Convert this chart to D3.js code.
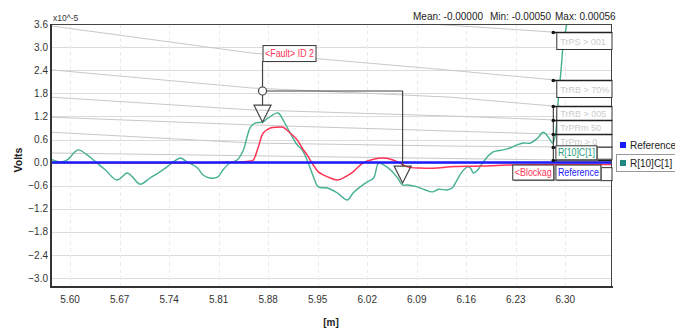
<!DOCTYPE html>
<html><head><meta charset="utf-8">
<script src="https://cdn.jsdelivr.net/npm/d3@7"></script>
<style>body{margin:0;background:#fff}svg{display:block;font-family:"Liberation Sans",Arial,sans-serif}</style>
</head><body><svg id="c" width="675" height="332"></svg>
<script>
// ---- data ----
const xTicks = [5.60,5.67,5.74,5.81,5.88,5.95,6.02,6.09,6.16,6.23,6.30];
const yTicks = [-3.0,-2.4,-1.8,-1.2,-0.6,0.0,0.6,1.2,1.8,2.4,3.0,3.6];
const tealX = [5.573,5.586,5.596,5.611,5.624,5.638,5.650,5.666,5.681,5.688,5.699,5.713,5.727,5.737,5.746,5.756,5.765,5.780,5.788,5.798,5.809,5.816,5.826,5.836,5.845,5.850,5.855,5.862,5.872,5.880,5.894,5.901,5.911,5.921,5.928,5.936,5.944,5.951,5.964,5.978,5.992,6.000,6.010,6.020,6.029,6.036,6.043,6.053,6.063,6.070,6.077,6.091,6.102,6.112,6.121,6.133,6.140,6.147,6.154,6.162,6.166,6.170,6.176,6.183,6.190,6.198,6.212,6.222,6.232,6.241,6.251,6.261,6.269,6.276,6.282,6.286,6.290,6.294,6.297,6.302,6.307];
const tealV = [0.09,0.02,0.07,0.33,0.20,-0.01,-0.19,-0.45,-0.27,-0.37,-0.56,-0.40,-0.24,-0.11,0.02,0.12,0.02,-0.14,-0.32,-0.40,-0.37,-0.19,-0.01,0.07,0.33,0.66,0.92,1.03,1.05,1.16,1.29,1.11,0.77,0.46,0.33,0.02,-0.37,-0.63,-0.66,-0.79,-0.97,-0.79,-0.63,-0.50,-0.40,-0.01,-0.06,-0.19,-0.40,-0.58,-0.58,-0.63,-0.71,-0.76,-0.69,-0.71,-0.66,-0.45,-0.24,-0.11,-0.14,-0.27,-0.19,-0.01,0.15,0.28,0.33,0.38,0.46,0.51,0.51,0.64,0.79,0.66,0.51,0.72,1.63,2.41,3.05,3.60,4.50];
const redX = [5.573,5.855,5.859,5.866,5.873,5.883,5.893,5.901,5.911,5.921,5.928,5.935,5.942,5.951,5.964,5.978,5.989,6.000,6.014,6.029,6.043,6.053,6.063,6.077,6.095,6.119,6.137,6.180,6.225,6.366];
const redV = [0,0.04,0.07,0.40,0.77,0.90,0.92,0.92,0.77,0.59,0.38,0.20,-0.01,-0.24,-0.37,-0.45,-0.37,-0.24,-0.01,0.09,0.12,0.09,0.02,-0.11,-0.14,-0.14,-0.11,-0.09,-0.06,-0.05];
const refX = [5.573,6.366];
const refV = [0,0];
// threshold guide lines, each ends at a tag
const guideX = [[5.573,5.855,6.137,6.283],[6.109,6.283],[5.573,5.855,6.137,6.283],[5.573,5.855,6.137,6.283],[5.573,5.855,6.137,6.283],[5.573,5.855,6.137,6.283],[5.573,6.283]];
const guideV = [[3.55,2.85,2.40,2.15],[3.60,3.39],[2.41,1.94,1.70,1.47],[1.70,1.37,1.21,1.11],[1.18,0.98,0.82,0.74],[0.79,0.51,0.43,0.41],[0.25,0.07]];
const guideTags = ["TrRB > 70%","TrPS > 001","TrRB > 005","TrPRm 50","TrPm > 0","",""];
const faultX = [5.872,6.070];
const faultTipV = [1.05,-0.53];
const stats = ["Mean: -0.00000","Min: -0.00050","Max: 0.00056"];
const legendNames = ["Reference","R[10]C[1]"];

// ---- chart ----
const svg = d3.select("#c");
const L=51,R=612,T=24,B=287;
const x = d3.scaleLinear().domain([5.573,6.366]).range([L,R]);
const y = d3.scaleLinear().domain([-3.23,3.6]).range([B,T]);
const cTeal="#45b093", cRed="#ff3355", cBlue="#1a1aff";

svg.append("rect").attr("width",675).attr("height",332).attr("fill","#fff");
svg.append("defs").append("clipPath").attr("id","pc").append("rect").attr("x",L).attr("y",T).attr("width",R-L).attr("height",B-T);

// grid
svg.append("g").selectAll("line").data(yTicks).join("line")
  .attr("x1",L).attr("x2",R).attr("y1",d=>Math.round(y(d))+0.5).attr("y2",d=>Math.round(y(d))+0.5)
  .attr("stroke","#dcdcdc");
svg.append("g").selectAll("line").data(xTicks).join("line")
  .attr("x1",d=>Math.round(x(d))+0.5).attr("x2",d=>Math.round(x(d))+0.5).attr("y1",T).attr("y2",B)
  .attr("stroke","#ebebeb").attr("stroke-dasharray","4,3");

const plot = svg.append("g").attr("clip-path","url(#pc)");
// guide lines
guideX.forEach((gx,i)=>{
  const pts = gx.map((v,j)=>[x(v),y(guideV[i][j])]);
  plot.append("path").attr("d",d3.line()(pts)).attr("fill","none").attr("stroke","#c8c8c8").attr("stroke-width",1);
});

const line = d3.line().curve(d3.curveCatmullRom.alpha(0.5));
plot.append("path").attr("d",line(tealX.map((v,i)=>[x(v),y(tealV[i])])))
  .attr("fill","none").attr("stroke",cTeal).attr("stroke-width",1.4);
plot.append("path").attr("d",line(redX.map((v,i)=>[x(v),y(redV[i])])))
  .attr("fill","none").attr("stroke",cRed).attr("stroke-width",1.5);
plot.append("path").attr("d",d3.line()(refX.map((v,i)=>[x(v),y(refV[i])])))
  .attr("fill","none").attr("stroke",cBlue).attr("stroke-width",2.5);

// axes frame
svg.append("rect").attr("x",L+0.5).attr("y",T+0.5).attr("width",R-L-1).attr("height",B-T-1)
  .attr("fill","none").attr("stroke","#444").attr("stroke-width",1);
svg.append("line").attr("x1",L).attr("x2",L).attr("y1",T).attr("y2",B+1).attr("stroke","#333").attr("stroke-width",2);
svg.append("line").attr("x1",L).attr("x2",R+1).attr("y1",B).attr("y2",B).attr("stroke","#333").attr("stroke-width",2);

// tick labels
svg.append("g").selectAll("text").data(yTicks).join("text")
  .attr("x",L-3).attr("y",d=>y(d)+3.5).attr("text-anchor","end").attr("font-size",10).attr("fill","#333")
  .text(d=>d3.format(".1f")(d));
svg.append("g").selectAll("text").data(xTicks).join("text")
  .attr("x",d=>x(d)).attr("y",303).attr("text-anchor","middle").attr("font-size",10).attr("fill","#333")
  .text(d=>d3.format(".2f")(d));
svg.append("text").attr("x",53).attr("y",21).attr("font-size",8.5).attr("fill","#333").text("x10^-5");
svg.append("text").attr("transform","translate(22,160) rotate(-90)").attr("text-anchor","middle")
  .attr("font-size",10.5).attr("font-weight","bold").attr("fill","#222").text("Volts");
svg.append("text").attr("x",331).attr("y",326).attr("text-anchor","middle")
  .attr("font-size",10).attr("font-weight","bold").attr("fill","#222").text("[m]");
// stats
const sx=[413,490,555];
stats.forEach((s,i)=>svg.append("text").attr("x",sx[i]).attr("y",20).attr("font-size",10).attr("fill","#222").text(s));

// tags on right
const tagX = x(6.283);
const tagG = svg.append("g");
const tagClip = svg.select("defs").append("clipPath").attr("id","tc");
tagClip.append("rect").attr("x",tagX).attr("y",0).attr("width",R-tagX).attr("height",332);
const tagH=[17,17,14,14,13,13,0];
guideX.forEach((gx,i)=>{
  const ty = Math.round(y(guideV[i][gx.length-1]))+0.5;
  if (guideTags[i]) {
    tagG.append("rect").attr("x",tagX+3.5).attr("y",ty).attr("width",R-tagX-3.5).attr("height",tagH[i])
      .attr("fill","#fff").attr("stroke","#333").attr("stroke-width",1);
    tagG.append("text").attr("clip-path","url(#tc)").attr("x",tagX+7).attr("y",ty+tagH[i]/2+3.5)
      .attr("font-size",9).attr("fill","#cccccc").text(guideTags[i]);
  }
  tagG.append("line").attr("x1",tagX).attr("x2",R).attr("y1",ty).attr("y2",ty).attr("stroke","#222").attr("stroke-width",1.5);
  tagG.append("circle").attr("cx",tagX).attr("cy",ty).attr("r",1.8).attr("fill","#111");
});
tagG.append("line").attr("x1",tagX).attr("x2",tagX).attr("y1",y(guideV[2][3])).attr("y2",y(0.07)).attr("stroke","#222").attr("stroke-width",1);

// series tags
function tag(xv, yv, w, h, txt, col){
  const px=x(xv), py=y(yv);
  tagG.append("rect").attr("x",px+1.5).attr("y",py+1.5).attr("width",w).attr("height",h).attr("fill","#888");
  tagG.append("rect").attr("x",px+0.5).attr("y",py+0.5).attr("width",w).attr("height",h).attr("fill","#fff").attr("stroke","#333");
  tagG.append("text").attr("x",px+2.5).attr("y",py+h/2+4).attr("font-size",10.5).attr("fill",col)
    .attr("textLength",w-4).attr("lengthAdjust","spacingAndGlyphs").text(txt);
}
tag(6.225,-0.05,41,15,"<Blockag",cRed);
tagG.append("rect").attr("x",x(6.286)+40).attr("y",y(0.40)).attr("width",R-x(6.286)-40).attr("height",12).attr("fill","#fff").attr("stroke","#333");
tag(6.286,0.45,41,14,"R[10]C[1]","#2a9d80");
tagG.append("rect").attr("x",x(6.286)+45).attr("y",y(-0.13)).attr("width",R-x(6.286)-45).attr("height",13).attr("fill","#fff").attr("stroke","#333");
tag(6.286,-0.05,45,15,"Reference",cBlue);

// fault markers
const fg = svg.append("g").attr("stroke","#444").attr("fill","none").attr("stroke-width",1.2);
const fx0=x(faultX[0]), fx1=x(faultX[1]), cy=y(1.86);
fg.append("line").attr("x1",fx0).attr("x2",fx0).attr("y1",y(2.63)).attr("y2",cy-4);
fg.append("line").attr("x1",fx0).attr("x2",fx0).attr("y1",cy+4).attr("y2",y(faultTipV[0])-17);
fg.append("path").attr("d",`M${fx0+4},${cy}H${fx1}V${y(faultTipV[1])-17}`);
[0,1].forEach(i=>{
  const tx=x(faultX[i]), ty=y(faultTipV[i]);
  fg.append("path").attr("d",`M${tx-8.5},${ty-17}L${tx+8.5},${ty-17}L${tx},${ty}Z`);
});
fg.append("circle").attr("cx",fx0).attr("cy",cy).attr("r",4).attr("fill","#fff");
svg.append("rect").attr("x",fx0+0.5).attr("y",y(3.04)).attr("width",53).attr("height",16).attr("fill","#fff").attr("stroke","#333");
svg.append("text").attr("x",fx0+2.5).attr("y",y(3.04)+11.5).attr("font-size",10).attr("fill",cRed)
  .attr("textLength",49).attr("lengthAdjust","spacingAndGlyphs").text("<Fault> ID 2");

// legend
const lg = svg.append("g").attr("font-size",10).attr("fill","#222");
lg.append("rect").attr("x",616.5).attr("y",154.5).attr("width",60).attr("height",17).attr("fill","none").attr("stroke","#999");
[cBlue,"#1f8a80"].forEach((c,i)=>{
  lg.append("rect").attr("x",620).attr("y",142+i*18).attr("width",6).attr("height",6).attr("fill",c);
  lg.append("text").attr("x",630).attr("y",149+i*18).text(legendNames[i]);
});
</script></body></html>
